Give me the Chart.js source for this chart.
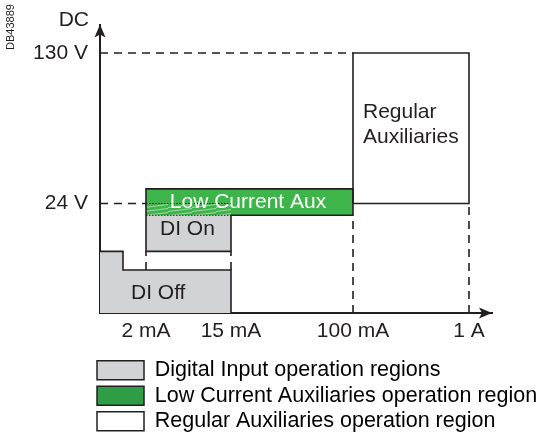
<!DOCTYPE html>
<html>
<head>
<meta charset="utf-8">
<script src="https://cdn.jsdelivr.net/npm/chart.js@4.4.1/dist/chart.umd.min.js"></script>
<style>
  html, body { margin: 0; padding: 0; background: #fff; }
</style>
</head>
<body>
<canvas id="chart" width="548" height="442"></canvas>
<script>
// schematic units: axes are not to scale, positions only
const xTickPos = [4.6, 13.1, 25.3, 36.9];
const xTickLabels = ['2 mA', '15 mA', '100 mA', '1 A'];
const yTickPos = [11.2, 26.6];
const yTickLabels = ['24 V', '130 V'];

// top edges of filled regions + the level they fill down to
const diOffTop = [[0, 6.3], [2.3, 6.3], [2.3, 4.4], [13.1, 4.4]];
const diOnTop = [[4.6, 11.2], [13.1, 11.2]];
const lowCurrentTop = [[4.6, 12.7], [25.3, 12.7]];
const overlapTop = [[4.6, 11.2], [13.1, 11.2]];
const regularTop = [[25.3, 26.6], [36.9, 26.6]];
const regionBase = [0, 6.3, 10, 10, 11.2];

// outlines
const solidEdges = [
  [[0, 6.3], [2.3, 6.3], [2.3, 4.4], [13.1, 4.4], [13.1, 0]],
  [[13.1, 10], [13.1, 6.3], [4.6, 6.3], [4.6, 12.7], [25.3, 12.7], [25.3, 10], [13.1, 10]],
  [[25.3, 11.2], [25.3, 26.6], [36.9, 26.6], [36.9, 11.2], [25.3, 11.2]]
];
const dashedEdges = [
  [[0, 26.6], [25.3, 26.6]],
  [[0, 11.2], [4.6, 11.2]],
  [[25.3, 0], [25.3, 10]],
  [[36.9, 0], [36.9, 11.2]],
  [[4.6, 4.4], [4.6, 6.3]],
  [[13.1, 4.4], [13.1, 6.3]]
];
const dottedEdges = [
  [[4.6, 11.2], [13.1, 11.2]],
  [[4.6, 10], [13.1, 10]]
];

const legendLabels = [
  'Digital Input operation regions',
  'Low Current Auxiliaries operation region',
  'Regular Auxiliaries operation region'
];

const dark = '#231f20';
const gray = '#d1d3d4';
const green = '#3db54a';
const family = '"Liberation Sans", Arial, sans-serif';

Chart.defaults.font.family = family;
Chart.defaults.font.size = 21;
Chart.defaults.color = dark;

const pts = a => a.map(([x, y]) => ({x, y}));

// light streaks for the DI On / Low Current overlap
const hatchCanvas = document.createElement('canvas');
hatchCanvas.width = 24;
hatchCanvas.height = 4;
const hctx = hatchCanvas.getContext('2d');
hctx.strokeStyle = 'rgba(225,225,225,0.85)';
hctx.lineWidth = 0.8;
hctx.beginPath();
hctx.moveTo(0, 3.5);
hctx.lineTo(24, 0.5);
hctx.stroke();
const hatch = document.createElement('canvas').getContext('2d').createPattern(hatchCanvas, 'repeat');

const lineBase = {showLine: true, pointRadius: 0, pointHoverRadius: 0, tension: 0};

const fillColors = [gray, gray, green, hatch, '#ffffff'];
const tops = [diOffTop, diOnTop, lowCurrentTop, overlapTop, regularTop];

// painting order: back to front
const layers = [];
tops.forEach((t, i) => {
  layers.push({...lineBase, data: pts(t), borderColor: 'transparent', borderWidth: 0,
    backgroundColor: fillColors[i], fill: {value: regionBase[i]}});
});
dashedEdges.forEach(e => {
  layers.push({...lineBase, data: pts(e), borderColor: dark, borderWidth: 1.6,
    borderDash: [8, 6], fill: false});
});
solidEdges.forEach(e => {
  layers.push({...lineBase, data: pts(e), borderColor: dark, borderWidth: 1.6, fill: false});
});
dottedEdges.forEach(e => {
  layers.push({...lineBase, data: pts(e), borderColor: dark, borderWidth: 1.2,
    borderDash: [1.5, 1.5], fill: false});
});
layers.forEach((d, i) => { d.order = layers.length - i; });

const schemeText = {
  id: 'schemeText',
  afterLayout(chart) {
    // legend sits under the plot, starting just left of the y axis
    const lg = chart.legend;
    lg.left = chart.chartArea.left - 7;
    lg.right = chart.width;
    lg.width = lg.right - lg.left;
  },
  afterDatasetsDraw(chart) {
    const {ctx, chartArea: a, scales: {x, y}} = chart;
    const px = v => x.getPixelForValue(v);
    const py = v => y.getPixelForValue(v);
    const ox = px(0), oy = py(0);
    ctx.save();
    ctx.fillStyle = dark;
    // arrow heads
    ctx.beginPath();
    ctx.moveTo(ox, a.top);
    ctx.lineTo(ox + 5.5, a.top + 13);
    ctx.lineTo(ox, a.top + 10);
    ctx.lineTo(ox - 5.5, a.top + 13);
    ctx.closePath();
    ctx.fill();
    ctx.beginPath();
    ctx.moveTo(a.right, oy);
    ctx.lineTo(a.right - 13, oy - 5.5);
    ctx.lineTo(a.right - 10, oy);
    ctx.lineTo(a.right - 13, oy + 5.5);
    ctx.closePath();
    ctx.fill();

    ctx.font = '21px ' + family;
    ctx.textBaseline = 'middle';
    ctx.textAlign = 'left';
    ctx.fillText('DI On', px(6.0), py(8.6));
    ctx.fillText('DI Off', px(3.1), py(2.0));
    ctx.fillText('Regular', px(26.3), py(20.5));
    ctx.fillText('Auxiliaries', px(26.3), py(18.0));
    ctx.fillStyle = '#ffffff';
    ctx.textAlign = 'center';
    ctx.fillText('Low Current Aux', px(14.8), py(11.3));
    ctx.fillStyle = dark;
    ctx.textAlign = 'right';
    ctx.fillText('DC', a.left - 11, 20);

    ctx.font = '11px ' + family;
    ctx.textAlign = 'center';
    ctx.translate(11, 27);
    ctx.rotate(-Math.PI / 2);
    ctx.fillText('DB43889', 0, 0);
    ctx.restore();
  }
};

new Chart(document.getElementById('chart'), {
  type: 'scatter',
  data: {datasets: layers},
  options: {
    responsive: false,
    animation: false,
    events: [],
    layout: {autoPadding: false, padding: {left: 20, right: 56, top: 18, bottom: 0}},
    scales: {
      x: {
        type: 'linear', min: 0, max: 39.2,
        grid: {display: false, drawTicks: false},
        border: {display: true, color: dark, width: 2},
        afterBuildTicks: s => { s.ticks = xTickPos.map(value => ({value})); },
        afterFit: s => { s.height = 42.5; },
        ticks: {autoSkip: false, maxRotation: 0, padding: 6, color: dark,
          callback: (v, i) => xTickLabels[i]}
      },
      y: {
        type: 'linear', min: 0, max: 29.5,
        grid: {display: false, drawTicks: false},
        border: {display: true, color: dark, width: 2},
        afterBuildTicks: s => { s.ticks = yTickPos.map(value => ({value})); },
        afterFit: s => { s.width = 80; },
        ticks: {autoSkip: false, padding: 12, color: dark,
          callback: (v, i) => yTickLabels[i]}
      }
    },
    plugins: {
      tooltip: {enabled: false},
      legend: {
        position: 'bottom',
        align: 'start',
        onClick: null,
        labels: {
          boxWidth: 47,
          boxHeight: 19,
          padding: 4,
          color: dark,
          font: {size: 21.5},
          generateLabels: () => legendLabels.map((text, i) => ({
            text,
            fillStyle: [gray, '#2f9c46', '#ffffff'][i],
            strokeStyle: dark,
            lineWidth: 1.5,
            hidden: false
          }))
        }
      }
    }
  },
  plugins: [schemeText]
});
</script>
</body>
</html>
